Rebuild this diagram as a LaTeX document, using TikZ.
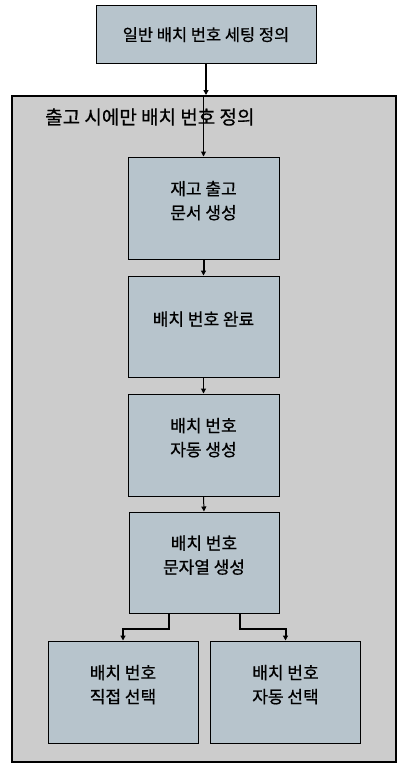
\documentclass[tikz,border=0pt]{standalone}
\usepackage{fontspec}
\setmainfont{Noto Sans CJK KR}[FakeBold=0.7]
\usetikzlibrary{arrows.meta}
\definecolor{boxblue}{RGB}{183,196,204}
\definecolor{framegray}{RGB}{204,204,204}
\tikzset{
	stepbox/.style={draw=black, line width=1pt, fill=boxblue, minimum width=150pt, minimum height=101pt, inner sep=0pt, align=center, font=\fontsize{17}{24}\selectfont, text depth=16pt},
	flow/.style={-{Triangle[length=5pt,width=5pt]}, line width=1pt},
	thickflow/.style={flow, line width=2pt},
}

\begin{document}
\begin{tikzpicture}[x=1pt, y=-1pt]
			%%%%% START %%%%%
			
			\useasboundingbox (0, 0) rectangle (410, 777);
			
			\node[draw=black, line width=2pt, fill=framegray, minimum width=384pt, minimum height=665.5pt, inner sep=0pt] (frame) at (204, 428.75) {};
			\node[anchor=west, font=\fontsize{19}{22}\selectfont, inner sep=0pt] (title) at (45, 117) {출고 시에만 배치 번호 정의};
			
			\node[stepbox, minimum width=220pt, minimum height=58pt, text depth=0pt, font=\fontsize{16.5}{20}\selectfont] (general) at (206, 34) {일반 배치 번호 세팅 정의};
			
			\node[stepbox, minimum width=151pt, minimum height=102pt] (issue) at (203.5, 208) {재고 출고\\문서 생성};
			\node[stepbox, minimum width=151pt] (complete) at (203.5, 326.5) {배치 번호 완료};
			\node[stepbox, minimum width=151pt, minimum height=102pt] (auto) at (203.5, 445) {배치 번호\\자동 생성};
			\node[stepbox] (string) at (204, 562.5) {배치 번호\\문자열 생성};
			
			\node[stepbox, minimum height=102pt] (manual) at (123, 692) {배치 번호\\직접 선택};
			\node[stepbox, minimum height=102pt] (autosel) at (285.5, 692) {배치 번호\\자동 선택};
			
			\draw[thickflow] (general.south) -- (general.south |- frame.north);
			\draw[flow] (issue.north |- frame.north) -- (issue.north);
			\draw[thickflow] (issue.south) -- (complete.north);
			\draw[flow] (complete.south) -- (auto.north);
			\draw[flow] (auto.south) -- (string.north);
			
			\draw[thickflow] (string.south) ++(-35, 0) -- ++(0, 15) -| (manual.north);
			\draw[thickflow] (string.south) ++(36, 0) -- ++(0, 15) -| (autosel.north);
			
			%%%%% END %%%%%
\end{tikzpicture}
\end{document}
